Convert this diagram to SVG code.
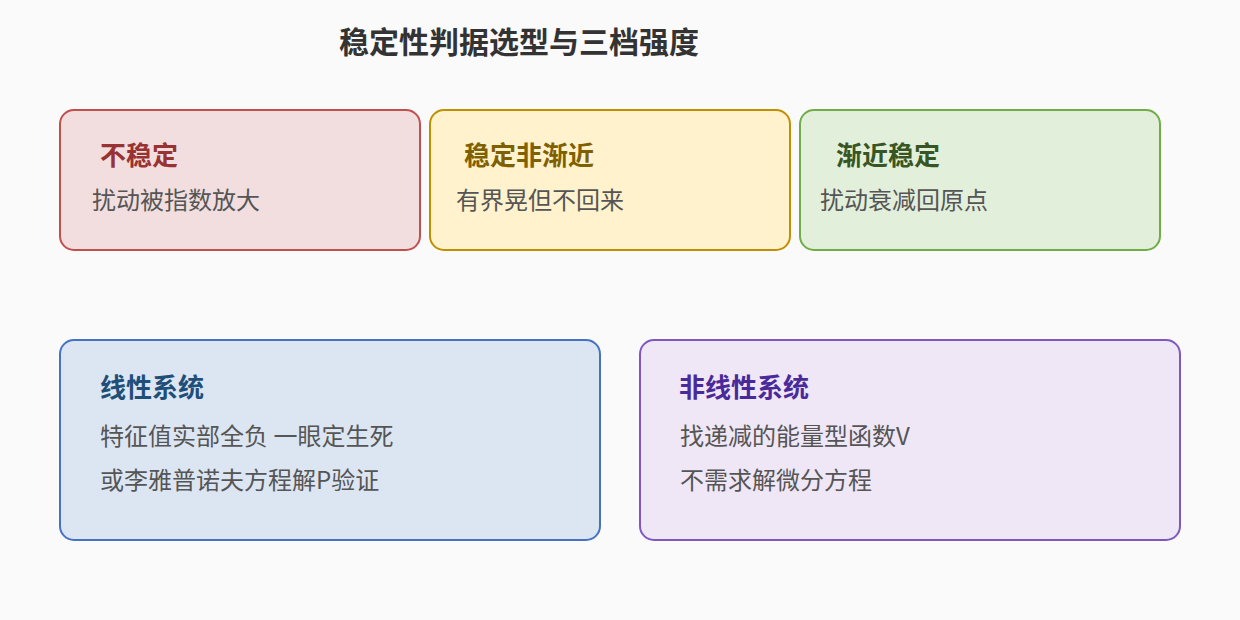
<svg xmlns="http://www.w3.org/2000/svg" width="1240" height="620" viewBox="0 0 1240 620">
<style>
text{font-family:"Noto Sans CJK SC","Noto Sans",sans-serif}
.h{font-size:26px;font-weight:bold}
.b{font-size:24px;fill:#555555}
.box{stroke-width:2}
</style>
<rect width="1240" height="620" fill="#fafafa"/>
<text x="519" y="53" text-anchor="middle" font-size="30" font-weight="bold" fill="#333333">稳定性判据选型与三档强度</text>
<g id="unstable">
<rect class="box" x="60" y="110" width="360" height="140" rx="14" fill="#f2dede" stroke="#c0504d"/>
<text class="h" x="100" y="165" fill="#993333">不稳定</text>
<text class="b" x="92" y="209">扰动被指数放大</text>
</g>
<g id="stable">
<rect class="box" x="430" y="110" width="360" height="140" rx="14" fill="#fff2cc" stroke="#bf9000"/>
<text class="h" x="464" y="165" fill="#7f6000">稳定非渐近</text>
<text class="b" x="456" y="209">有界晃但不回来</text>
</g>
<g id="asymptotic">
<rect class="box" x="800" y="110" width="360" height="140" rx="14" fill="#e2efda" stroke="#70ad47"/>
<text class="h" x="836" y="165" fill="#375623">渐近稳定</text>
<text class="b" x="820" y="209">扰动衰减回原点</text>
</g>
<g id="linear">
<rect class="box" x="60" y="340" width="540" height="200" rx="14" fill="#dce6f2" stroke="#4472c4"/>
<text class="h" x="100" y="397" fill="#1f4e79">线性系统</text>
<text class="b" x="100" y="445">特征值实部全负 一眼定生死</text>
<text class="b" x="100" y="489">或李雅普诺夫方程解P验证</text>
</g>
<g id="nonlinear">
<rect class="box" x="640" y="340" width="540" height="200" rx="14" fill="#efe7f6" stroke="#7e57c2"/>
<text class="h" x="679" y="397" fill="#4a2a9a">非线性系统</text>
<text class="b" x="680" y="445">找递减的能量型函数V</text>
<text class="b" x="680" y="489">不需求解微分方程</text>
</g>
<g id="connectors"></g>
</svg>
